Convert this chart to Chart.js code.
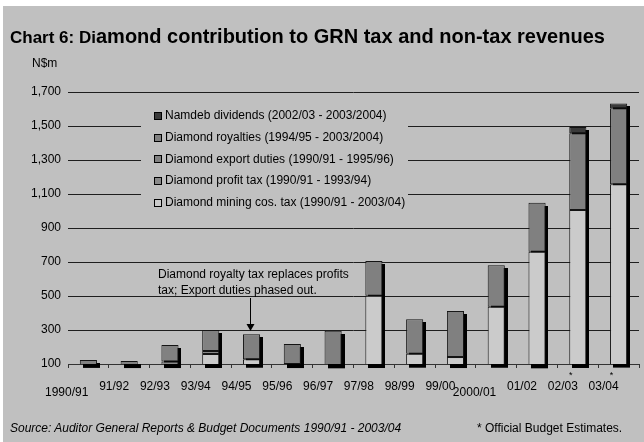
<!DOCTYPE html>
<html>
<head>
<meta charset="utf-8">
<script src="https://cdn.jsdelivr.net/npm/chart.js@4.4.1/dist/chart.umd.min.js"></script>
<style>
  html, body { margin: 0; padding: 0; background: #fff; }
  #panel { position: absolute; left: 3px; top: 6px; width: 641px; height: 436px; background: #c0c0c0; }
  #chart { position: absolute; left: 0; top: 0; }
  .txt { position: absolute; font-family: "Liberation Sans", Arial, sans-serif; color: #000; white-space: nowrap; }
  #title { left: 10px; top: 25px; font-weight: bold; font-size: 20px; }
  #title .lead { font-size: 17px; }
  #unit { left: 32px; top: 56px; font-size: 12px; }
  #source { left: 10px; top: 421px; font-size: 12px; font-style: italic; }
  #note { left: 477px; top: 421px; font-size: 12px; }
</style>
</head>
<body>
<div id="panel"></div>
<canvas id="chart" width="644" height="442"></canvas>
<div class="txt" id="title"><span class="lead">Chart 6: Di</span>amond contribution to GRN tax and non-tax revenues</div>
<div class="txt" id="unit">N$m</div>
<div class="txt" id="source">Source: Auditor General Reports &amp; Budget Documents 1990/91 - 2003/04</div>
<div class="txt" id="note">* Official Budget Estimates.</div>
<script>
// N$m per fiscal year
const years = ["1990/91", "91/92", "92/93", "93/94", "94/95", "95/96", "96/97",
  "97/98", "98/99", "99/00", "2000/01", "01/02", "02/03", "03/04"];
const miningTax = [55, 50, 60, 159, 128, 70, 80, 502, 161, 141, 437, 761, 1006, 1157];
const profitTax = [20, 20, 54, 17, 0, 0, 0, 0, 0, 0, 0, 0, 0, 0];
const exportDuties = [48, 48, 98, 124, 0, 30, 0, 0, 0, 0, 0, 0, 0, 0];
const royalties = [0, 0, 0, 0, 147, 118, 216, 204, 202, 271, 244, 288, 451, 447];
const namdebDividends = [0, 0, 0, 0, 0, 0, 0, 0, 0, 0, 0, 0, 37, 29];
// budget estimates get a star over the label
const estimated = ["02/03", "03/04"];
// the wide labels sit a little lower
const droppedLabels = ["1990/91", "2000/01"];
const yMin = 100, yMax = 1700, yStep = 200;

const FONT = '"Liberation Sans", Arial, sans-serif';
const BG = "#c0c0c0";

const labels = years.map(y => droppedLabels.includes(y) ? ["", y] : y);

function series(label, data, color) {
  return {
    label: label,
    data: data,
    backgroundColor: color,
    borderColor: "#141414",
    borderWidth: 1,
    borderSkipped: false,
    categoryPercentage: 1,
    barPercentage: 0.42,
  };
}

// black drop shadow behind each whole stack
const barShadow = {
  id: "barShadow",
  beforeDatasetsDraw(chart) {
    const { ctx, scales: { x, y } } = chart;
    const meta = chart.getDatasetMeta(0);
    const base = y.getPixelForValue(yMin);
    ctx.save();
    ctx.fillStyle = "#000";
    years.forEach((_, i) => {
      const total = chart.data.datasets.reduce((s, d) => s + d.data[i], 0);
      const w = meta.data[i].width;
      const cx = x.getPixelForValue(i);
      const top = y.getPixelForValue(total);
      ctx.fillRect(Math.round(cx - w / 2) + 3, Math.round(top) + 3, Math.round(w), base - top + 1);
    });
    ctx.restore();
  },
};

// legend box, note + arrow, estimate stars
const extras = {
  id: "extras",
  afterDraw(chart) {
    const { ctx, scales: { x, y } } = chart;
    ctx.save();

    // legend box sits over the gridlines
    ctx.fillStyle = BG;
    ctx.fillRect(141, 100, 267, 120);
    ctx.font = "12px " + FONT;
    ctx.textBaseline = "middle";
    const items = chart.data.datasets.slice().reverse();
    items.forEach((ds, k) => {
      const cy = 116 + k * 21.7;
      ctx.fillStyle = ds.backgroundColor;
      ctx.fillRect(154, Math.round(cy) - 4, 8, 8);
      ctx.strokeStyle = "#000";
      ctx.lineWidth = 1;
      ctx.strokeRect(154.5, Math.round(cy) - 3.5, 7, 7);
      ctx.fillStyle = "#000";
      ctx.fillText(ds.label, 165, cy);
    });

    // note pointing at 94/95
    ctx.fillStyle = "#000";
    ctx.fillText("Diamond royalty tax replaces profits", 158, 275);
    ctx.fillText("tax; Export duties phased out.", 158, 291);
    const i = years.indexOf("94/95");
    const ax = Math.round(x.getPixelForValue(i)) - 1.5;
    const total = chart.data.datasets.reduce((s, d) => s + d.data[i], 0);
    const tip = Math.round(y.getPixelForValue(total)) - 3;
    ctx.strokeStyle = "#000";
    ctx.beginPath();
    ctx.moveTo(ax, 298);
    ctx.lineTo(ax, tip - 6);
    ctx.stroke();
    ctx.beginPath();
    ctx.moveTo(ax - 4, tip - 7);
    ctx.lineTo(ax + 4, tip - 7);
    ctx.lineTo(ax, tip);
    ctx.closePath();
    ctx.fill();

    // stars over estimated years
    ctx.font = "9px " + FONT;
    ctx.textAlign = "center";
    estimated.forEach(yr => {
      const px = x.getPixelForValue(years.indexOf(yr));
      ctx.fillText("*", px - 7, 376);
    });
    ctx.restore();
  },
};

Chart.defaults.font.family = FONT;
Chart.defaults.font.size = 12;
Chart.defaults.color = "#000";

new Chart(document.getElementById("chart").getContext("2d"), {
  type: "bar",
  data: {
    labels: labels,
    datasets: [
      series("Diamond mining cos. tax (1990/91 - 2003/04)", miningTax, "#cbcbcb"),
      series("Diamond profit tax (1990/91 - 1993/94)", profitTax, "#8a8a8a"),
      series("Diamond export duties (1990/91 - 1995/96)", exportDuties, "#818181"),
      series("Diamond royalties (1994/95 - 2003/2004)", royalties, "#808080"),
      series("Namdeb dividends (2002/03 - 2003/2004)", namdebDividends, "#3a3a3a"),
    ],
  },
  options: {
    responsive: false,
    animation: false,
    layout: { padding: { top: 92, right: 5, bottom: 0, left: 0 } },
    scales: {
      x: {
        stacked: true,
        afterFit: (s) => { s.height = 78; },
        grid: { drawOnChartArea: false, drawTicks: true, tickLength: 4, color: "#333" },
        border: { display: true, color: "#333" },
        ticks: {
          maxRotation: 0,
          autoSkip: false,
          align: "end",
          padding: 11,
          font: (c) => ({
            family: FONT,
            size: 12,
            lineHeight: droppedLabels.includes(years[c.index]) ? 0.733 : 1.2,
          }),
        },
      },
      y: {
        stacked: true,
        min: yMin,
        max: yMax,
        afterFit: (s) => { s.width = 68; },
        grid: { color: "#1e1e1e", drawTicks: false },
        border: { display: false },
        ticks: { stepSize: yStep, padding: 7 },
      },
    },
    plugins: {
      legend: { display: false },
      tooltip: { enabled: false },
    },
  },
  plugins: [barShadow, extras],
});
</script>
</body>
</html>
